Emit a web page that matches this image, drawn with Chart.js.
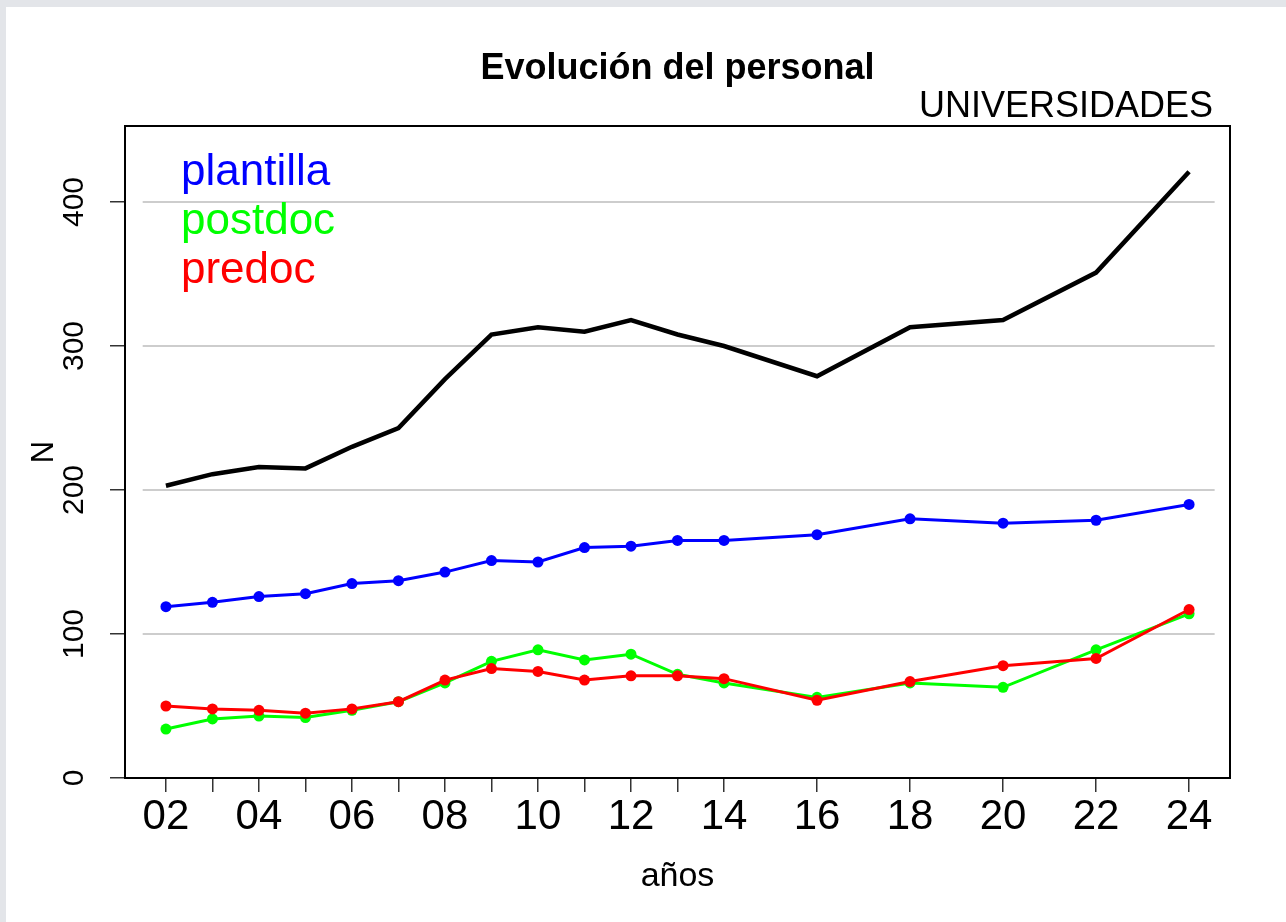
<!DOCTYPE html>
<html>
<head>
<meta charset="utf-8">
<title>Evolución del personal</title>
<script src="https://cdn.jsdelivr.net/npm/chart.js@4.4.1/dist/chart.umd.min.js"></script>
<style>
    html, body { margin: 0; padding: 0; background: #e3e5e9; }
    #wrap { position: absolute; left: 6px; top: 7px; width: 1280px; height: 915px; background: #fff; }
</style>
</head>
<body>
<div id="wrap"><canvas id="chart"></canvas></div>
<script>
// Data (years are 20xx)
const years = [2, 3, 4, 5, 6, 7, 8, 9, 10, 11, 12, 13, 14, 16, 18, 20, 22, 24];
const yearLabels = ['02', '03', '04', '05', '06', '07', '08', '09', '10', '11', '12', '13', '14', '16', '18', '20', '22', '24'];
const plantilla = [119, 122, 126, 128, 135, 137, 143, 151, 150, 160, 161, 165, 165, 169, 180, 177, 179, 190];
const postdoc = [34, 41, 43, 42, 47, 53, 66, 81, 89, 82, 86, 72, 66, 56, 66, 63, 89, 114];
const predoc = [50, 48, 47, 45, 48, 53, 68, 76, 74, 68, 71, 71, 69, 54, 67, 78, 83, 117];
const total = [203, 211, 216, 215, 230, 243, 277, 308, 313, 310, 318, 308, 300, 279, 313, 318, 351, 421];
const yTicks = [0, 100, 200, 300, 400];

const FONT = "'Liberation Sans', Arial, sans-serif";

Chart.defaults.color = '#000';

const toPoints = vals => years.map((x, i) => ({ x: x, y: vals[i] }));

function series(label, vals, color, order) {
    return {
        label: label,
        data: toPoints(vals),
        borderColor: color,
        backgroundColor: color,
        borderWidth: 3,
        pointRadius: 5.5,
        pointBorderWidth: 0,
        pointBackgroundColor: color,
        order: order,
        inLegend: true
    };
}

// gray reference lines, a bit shorter than the plot box
const gridLines = {
    id: 'gridLines',
    beforeDatasetsDraw(chart) {
        const { ctx, scales: { x, y } } = chart;
        ctx.save();
        ctx.strokeStyle = '#bdbdbd';
        ctx.lineWidth = 1.5;
        y.ticks.forEach(t => {
            if (t.value <= 0) return;
            const py = y.getPixelForValue(t.value);
            ctx.beginPath();
            ctx.moveTo(x.getPixelForValue(1.5), py);
            ctx.lineTo(x.getPixelForValue(24.55), py);
            ctx.stroke();
        });
        ctx.restore();
    }
};

// box around the plot + coloured labels in the top-left corner
const frameAndLabels = {
    id: 'frameAndLabels',
    afterLayout(chart) {
        const sub = chart.boxes.find(b => b.options && b.options.text === 'UNIVERSIDADES');
        if (sub) {
            sub.right = chart.chartArea.right - 17;
            sub.width = sub.right - sub.left;
        }
    },
    afterDatasetsDraw(chart) {
        const { ctx, chartArea } = chart;
        ctx.save();
        ctx.strokeStyle = '#000';
        ctx.lineWidth = 2;
        ctx.strokeRect(chartArea.left, chartArea.top, chartArea.right - chartArea.left, chartArea.bottom - chartArea.top);

        ctx.font = '44px ' + FONT;
        ctx.textAlign = 'left';
        ctx.textBaseline = 'alphabetic';
        chart.data.datasets.filter(ds => ds.inLegend).forEach((ds, i) => {
            ctx.fillStyle = ds.borderColor;
            ctx.fillText(ds.label, chartArea.left + 56, chartArea.top + 59 + i * 49);
        });
        ctx.restore();
    }
};

const totalSeries = {
    label: 'total',
    data: toPoints(total),
    borderColor: '#000',
    borderWidth: 4.5,
    pointRadius: 0,
    order: 4
};

new Chart(document.getElementById('chart'), {
    type: 'line',
    data: {
        datasets: [
            series('plantilla', plantilla, '#0000ff', 3),
            series('postdoc', postdoc, '#00ff00', 2),
            series('predoc', predoc, '#ff0000', 1),
            totalSeries
        ]
    },
    options: {
        responsive: true,
        maintainAspectRatio: false,
        animation: false,
        layout: { padding: { left: 0, right: 56, top: 0, bottom: 0 } },
        plugins: {
            legend: { display: false },
            tooltip: { enabled: false },
            title: {
                display: true,
                fullSize: false,
                text: 'Evolución del personal',
                color: '#000',
                font: { family: FONT, size: 36, weight: 'bold', lineHeight: '40px' },
                padding: { top: 42, bottom: 0 }
            },
            subtitle: {
                display: true,
                fullSize: false,
                text: 'UNIVERSIDADES',
                align: 'end',
                color: '#000',
                font: { family: FONT, size: 36, lineHeight: '37px' },
                padding: { top: 0, bottom: 0 }
            }
        },
        scales: {
            x: {
                type: 'linear',
                min: 1.12,
                max: 24.88,
                afterBuildTicks: s => { s.ticks = years.map(v => ({ value: v })); },
                afterFit: s => { s.height = 144; },
                ticks: {
                    autoSkip: false,
                    maxRotation: 0,
                    padding: 0,
                    color: '#000',
                    font: { family: FONT, size: 42 },
                    callback: v => (v % 2 === 0 ? yearLabels[years.indexOf(v)] : '')
                },
                grid: { drawOnChartArea: false, drawTicks: true, tickLength: 14, tickColor: '#333', lineWidth: 1.5 },
                border: { display: false },
                title: {
                    display: true,
                    text: 'años',
                    color: '#000',
                    font: { family: FONT, size: 34 },
                    padding: { top: 0, bottom: 25 }
                }
            },
            y: {
                min: 0,
                max: 452.8,
                afterBuildTicks: s => { s.ticks = yTicks.map(v => ({ value: v })); },
                afterFit: s => { s.width = 119; },
                ticks: {
                    minRotation: 90,
                    maxRotation: 90,
                    crossAlign: 'center',
                    padding: 10,
                    color: '#000',
                    font: { family: FONT, size: 30 }
                },
                grid: { drawOnChartArea: false, drawTicks: true, tickLength: 15, tickColor: '#333', lineWidth: 1.5 },
                border: { display: false },
                title: {
                    display: true,
                    text: 'N',
                    color: '#000',
                    font: { family: FONT, size: 31 },
                    padding: { top: 20, bottom: 0 }
                }
            }
        }
    },
    plugins: [gridLines, frameAndLabels]
});
</script>
</body>
</html>
